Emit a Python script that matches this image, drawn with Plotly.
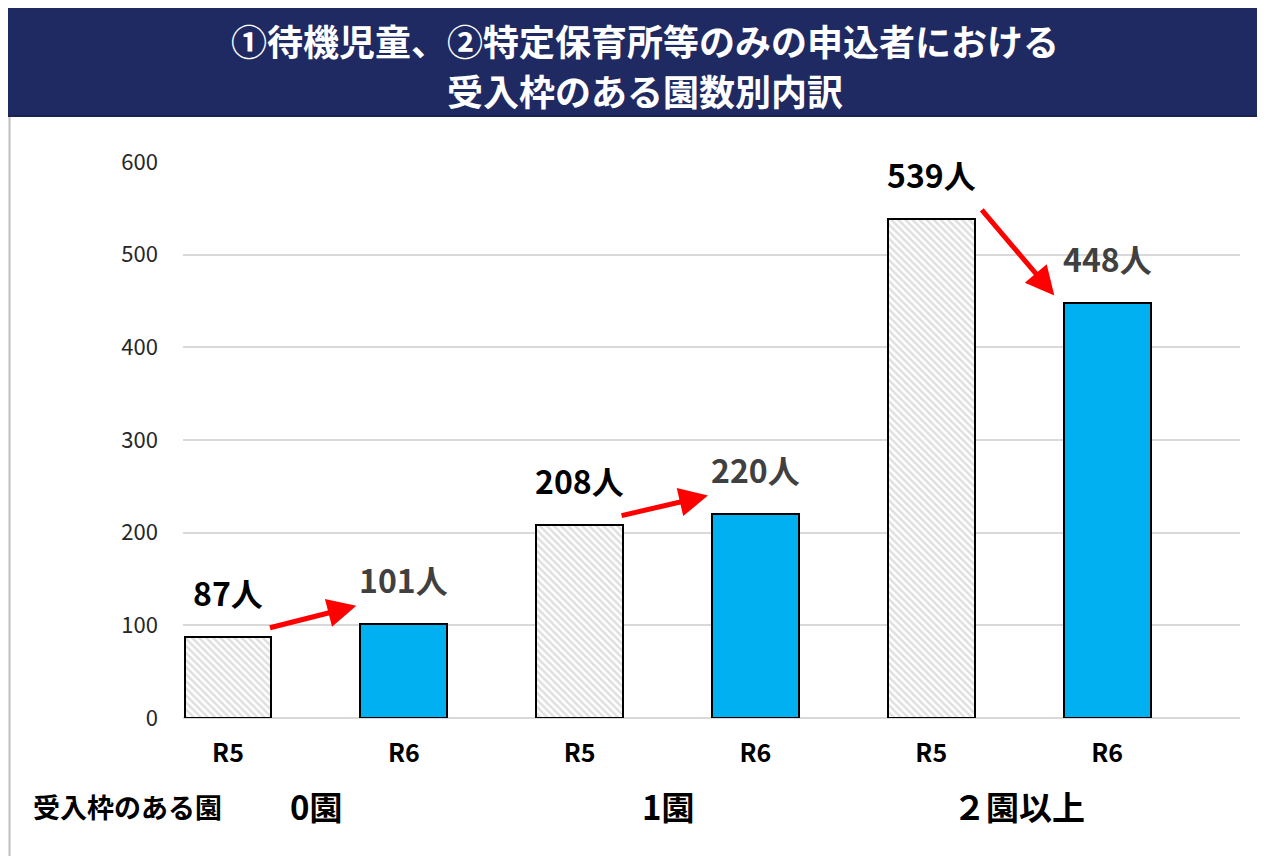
import plotly.graph_objects as go

# ---- data ----
groups = ["0園", "1園", "２園以上"]
tick_labels = ["R5", "R6", "R5", "R6", "R5", "R6"]
values_r5 = [87, 208, 539]
values_r6 = [101, 220, 448]
unit = "人"
title_lines = ["①待機児童、②特定保育所等のみの申込者における", "受入枠のある園数別内訳"]
row_label = "受入枠のある園"

FONT = "Noto Sans CJK JP"
OFF = 8  # page body margin
W, H = 1265 - OFF, 859 - OFF
PL, PR, PT, PB = 183, 1240, 162, 718  # plot area in page pixels
L, R, T, B = PL - OFF, W - (PR - OFF), PT - OFF, H - (PB - OFF)
pw, ph = PR - PL, PB - PT

def px_x(p):
    return (p - PL) / pw

def px_y(p):
    return (PB - p) / ph

x_r5 = [2 * i for i in range(len(groups))]
x_r6 = [2 * i + 1 for i in range(len(groups))]

fig = go.Figure()
fig.add_trace(go.Bar(
    x=x_r5, y=values_r5, width=0.494,
    marker=dict(color="white", line=dict(color="black", width=2),
                pattern=dict(shape="\\", fgcolor="#BFBFBF", bgcolor="#FFFFFF", size=5, solidity=0.5)),
    hoverinfo="skip", showlegend=False))
fig.add_trace(go.Bar(
    x=x_r6, y=values_r6, width=0.494,
    marker=dict(color="#00B0F0", line=dict(color="black", width=2)),
    hoverinfo="skip", showlegend=False))

annotations = []
# value labels
for xs, vs, col in [(x_r5, values_r5, "#000000"), (x_r6, values_r6, "#404040")]:
    for x, v in zip(xs, vs):
        annotations.append(dict(x=x, y=v, xref="x", yref="y", text=f"<b>{v}{unit}</b>",
                                showarrow=False, yanchor="bottom", yshift=20,
                                font=dict(family=FONT, size=32, color=col)))
# arrows (from R5 label area to R6 bar)
for i in range(len(groups)):
    if values_r6[i] >= values_r5[i]:
        x0, x1 = x_r5[i] + 0.23, x_r6[i] - 0.27
        y0 = values_r5[i] + 10
        y1 = values_r6[i] + 20
    else:
        x0, x1 = x_r5[i] + 0.28, x_r6[i] - 0.30
        y0 = values_r5[i] + 11
        y1 = values_r6[i] + 8
    annotations.append(dict(x=x1, y=y1, ax=x0, ay=y0, xref="x", yref="y", axref="x", ayref="y",
                            text="", showarrow=True, arrowhead=2, arrowsize=1.15, arrowwidth=5,
                            arrowcolor="#FF0000", standoff=0, startstandoff=0))
# group labels
for i, g in enumerate(groups):
    annotations.append(dict(x=2 * i + 0.5, y=px_y(806), xref="x", yref="paper", text=f"<b>{g}</b>",
                            showarrow=False, xanchor="center", yanchor="middle",
                            font=dict(family=FONT, size=33, color="#000000")))
annotations.append(dict(x=px_x(127), y=px_y(806), xref="paper", yref="paper", text=f"<b>{row_label}</b>",
                        showarrow=False, xanchor="center", yanchor="middle",
                        font=dict(family=FONT, size=27, color="#000000")))
# title (two lines)
for line, yp in zip(title_lines, [40, 90]):
    annotations.append(dict(x=px_x(645), y=px_y(yp), xref="paper", yref="paper",
                            text=f"<b>{line}</b>", showarrow=False, xanchor="center", yanchor="middle",
                            font=dict(family=FONT, size=36, color="white")))

shapes = [
    dict(type="rect", xref="paper", yref="paper", x0=px_x(7), x1=px_x(1270), y0=px_y(116), y1=px_y(7),
         fillcolor="#1F2A63", line=dict(color="#1A2352", width=2), layer="below"),
    dict(type="line", xref="paper", yref="paper", x0=px_x(9.5), x1=px_x(9.5), y0=px_y(117), y1=px_y(856),
         line=dict(color="#BFBFBF", width=2)),
]

fig.update_layout(
    width=W, height=H,
    margin=dict(l=L, r=R, t=T, b=B),
    paper_bgcolor="white", plot_bgcolor="white",
    bargap=0,
    annotations=annotations, shapes=shapes,
    xaxis=dict(range=[-0.256, 5.756], tickmode="array", tickvals=list(range(len(tick_labels))),
               ticktext=[f"<b>{t}</b>" for t in tick_labels], showgrid=False, zeroline=False,
               showline=False, ticks="", ticklabelstandoff=18,
               tickfont=dict(family=FONT, size=25, color="#000000")),
    yaxis=dict(range=[0, 600], dtick=100, showgrid=True, gridcolor="#D9D9D9", gridwidth=2,
               zeroline=True, zerolinecolor="#D9D9D9", zerolinewidth=2, showline=False, ticks="",
               ticklabelstandoff=24, tickfont=dict(family=FONT, size=22, color="#262626")),
)

fig.write_html("out.html")
